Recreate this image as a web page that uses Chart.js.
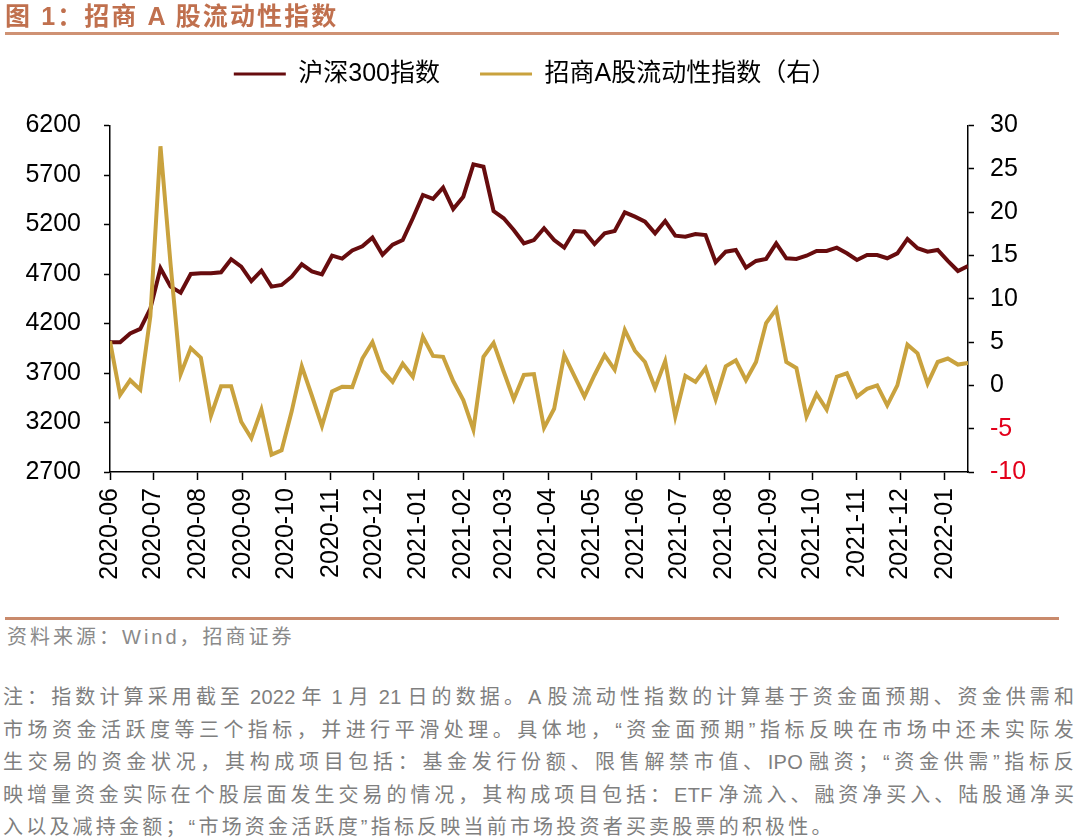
<!DOCTYPE html>
<html><head><meta charset="utf-8">
<script src="https://cdn.jsdelivr.net/npm/chart.js@4.4.1/dist/chart.umd.min.js"></script>
<style>
html,body{margin:0;padding:0;background:#fff;}
body{width:1080px;height:839px;position:relative;overflow:hidden;font-family:"Liberation Sans","Noto Sans CJK SC",sans-serif;}
#title{position:absolute;left:5px;top:0px;font-size:25px;font-weight:bold;color:#c0704e;letter-spacing:2.1px;line-height:32px;white-space:nowrap;z-index:2}
#rule1{position:absolute;left:5px;top:32px;width:1054px;height:3px;background:#cf9274;z-index:2}
#wrap{position:absolute;left:0;top:0;width:1080px;height:600px;}
#rule2{position:absolute;left:5px;top:617px;width:1054px;height:3px;background:#c98a6c}
#src{position:absolute;left:7px;top:624px;font-size:20px;line-height:26px;color:#8a8a8a;letter-spacing:3px;white-space:nowrap}
#notes{position:absolute;left:3px;top:681px;width:1073px;font-size:20px;color:#7f7f7f;}
#notes div{height:32.5px;line-height:32.5px;white-space:nowrap;}
#notes .fit, #notes #lastNote{display:inline-block;}
#notes .lat{letter-spacing:0.3px;}
</style></head>
<body>
<div id="wrap"><canvas id="c" width="1080" height="600"></canvas></div>
<div id="title">图 1：招商 A 股流动性指数</div>
<div id="rule1"></div>
<div id="rule2"></div>
<div id="src">资料来源：Wind，招商证券</div>
<div id="notes">
<div><span class="fit">注：指数计算采用截至 2022 年 1 月 21 日的数据。A 股流动性指数的计算基于资金面预期、资金供需和</span></div>
<div><span class="fit">市场资金活跃度等三个指标，并进行平滑处理。具体地，“资金面预期”指标反映在市场中还未实际发</span></div>
<div><span class="fit">生交易的资金状况，其构成项目包括：基金发行份额、限售解禁市值、IPO 融资；“资金供需”指标反</span></div>
<div><span class="fit">映增量资金实际在个股层面发生交易的情况，其构成项目包括：ETF 净流入、融资净买入、陆股通净买</span></div>
<div><span id="lastNote">入以及减持金额；“市场资金活跃度”指标反映当前市场投资者买卖股票的积极性。</span></div>
</div>
<script>
// ---- data ----
const weekDates = [
 '2020-06-05','2020-06-12','2020-06-19','2020-06-26','2020-07-03','2020-07-10','2020-07-17','2020-07-24','2020-07-31',
 '2020-08-07','2020-08-14','2020-08-21','2020-08-28','2020-09-04','2020-09-11','2020-09-18','2020-09-25',
 '2020-10-02','2020-10-09','2020-10-16','2020-10-23','2020-10-30','2020-11-06','2020-11-13','2020-11-20','2020-11-27',
 '2020-12-04','2020-12-11','2020-12-18','2020-12-25',
 '2021-01-01','2021-01-08','2021-01-15','2021-01-22','2021-01-29','2021-02-05','2021-02-12','2021-02-19','2021-02-26',
 '2021-03-05','2021-03-12','2021-03-19','2021-03-26','2021-04-02','2021-04-09','2021-04-16','2021-04-23','2021-04-30',
 '2021-05-07','2021-05-14','2021-05-21','2021-05-28','2021-06-04','2021-06-11','2021-06-18','2021-06-25',
 '2021-07-02','2021-07-09','2021-07-16','2021-07-23','2021-07-30','2021-08-06','2021-08-13','2021-08-20','2021-08-27',
 '2021-09-03','2021-09-10','2021-09-17','2021-09-24','2021-10-01','2021-10-08','2021-10-15','2021-10-22','2021-10-29',
 '2021-11-05','2021-11-12','2021-11-19','2021-11-26','2021-12-03','2021-12-10','2021-12-17','2021-12-24','2021-12-31',
 '2022-01-07','2022-01-14','2022-01-21'
];
const hs300 = [
 4010,4010,4100,4145,4350,4758,4572,4511,4700,4707,4707,4717,4849,4774,4629,4734,4572,4589,4673,4798,
 4727,4697,4885,4855,4938,4980,5067,4895,4996,5043,5263,5498,5458,5572,5357,5481,5808,5784,5336,5263,
 5145,5010,5043,5162,5043,4966,5134,5127,5003,5111,5134,5323,5279,5229,5111,5235,5087,5077,5104,5094,
 4818,4925,4943,4764,4832,4852,5010,4859,4852,4885,4933,4933,4966,4909,4842,4892,4892,4859,4909,5054,
 4960,4925,4943,4832,4730,4781
];
const liquidity = [
 5.1,-1.1,0.6,-0.5,8.0,27.6,14.0,1.3,4.3,3.2,-3.5,-0.1,-0.1,-4.2,-6.1,-2.8,-8.0,-7.5,-3.0,2.2,
 -1.2,-4.7,-0.7,-0.15,-0.2,3.1,5.0,1.7,0.4,2.5,1.0,5.6,3.4,3.3,0.5,-1.7,-5.1,3.3,4.9,1.6,
 -1.6,1.2,1.3,-4.9,-2.7,3.5,1.1,-1.3,1.2,3.5,1.8,6.4,4.0,2.7,-0.3,2.8,-3.6,1.1,0.4,2.0,
 -1.6,2.2,2.9,0.6,2.7,7.2,8.8,2.7,2.0,-3.6,-1.0,-2.8,1.0,1.4,-1.3,-0.4,0.0,-2.3,0.0,4.7,
 3.7,0.2,2.7,3.1,2.4,2.6
];
const monthTickDates = [
 '2020-06-05','2020-07-05','2020-08-05','2020-09-05','2020-10-05','2020-11-05','2020-12-05',
 '2021-01-05','2021-02-05','2021-03-05','2021-04-05','2021-05-05','2021-06-05','2021-07-05',
 '2021-08-05','2021-09-05','2021-10-05','2021-11-05','2021-12-05','2022-01-05'
];
const monthTickLabels = [
 '2020-06','2020-07','2020-08','2020-09','2020-10','2020-11','2020-12',
 '2021-01','2021-02','2021-03','2021-04','2021-05','2021-06','2021-07',
 '2021-08','2021-09','2021-10','2021-11','2021-12','2022-01'
];
const leftTickValues = [2700,3200,3700,4200,4700,5200,5700,6200];
const rightTickValues = [-10,-5,0,5,10,15,20,25,30];
const seriesNames = ['沪深300指数','招商A股流动性指数（右）'];

// ---- fit the note lines to the full width (spacing only between CJK characters) ----
document.querySelectorAll('#notes .fit').forEach(sp => {
  const txt = sp.textContent;
  sp.innerHTML = txt.replace(/[\x20-\x7e]+/g, m => '<span class="lat">' + m.replace(/ /g, '\u00a0') + '</span>');
  const nCjk = Array.from(txt.replace(/[\x20-\x7e]+/g, '')).length;
  sp.style.letterSpacing = '0px';
  const w = sp.getBoundingClientRect().width;
  sp.style.letterSpacing = ((1073 - w) / (nCjk - 0.5)) + 'px';
});
document.getElementById('lastNote').style.letterSpacing = '3.2px';

// ---- build ----
const MAROON = '#670c0e', GOLD = '#c9a23e';
const DAY = 86400000;
const t0 = Date.parse(weekDates[0]);
const dayOf = d => (Date.parse(d) - t0) / DAY;
const xEnd = dayOf(weekDates[weekDates.length - 1]);
const tickFont = {family: '"Liberation Sans", "Noto Sans CJK SC", sans-serif', size: 25};

new Chart(document.getElementById('c'), {
  type: 'line',
  data: {
    datasets: [
      {label: seriesNames[0], data: weekDates.map((d, i) => ({x: dayOf(d), y: hs300[i]})),
       borderColor: MAROON, backgroundColor: MAROON, borderWidth: 4, pointRadius: 0, tension: 0,
       yAxisID: 'yL', order: 1},
      {label: seriesNames[1], data: weekDates.map((d, i) => ({x: dayOf(d), y: liquidity[i]})),
       borderColor: GOLD, backgroundColor: GOLD, borderWidth: 4, pointRadius: 0, tension: 0,
       yAxisID: 'yR', order: 0}
    ]
  },
  options: {
    responsive: false,
    animation: false,
    layout: {padding: {top: 21.5, right: 10, left: 0, bottom: 0}},
    plugins: {
      tooltip: {enabled: false},
      title: {display: true, text: '', weight: 500, padding: {top: 19, bottom: 0}, font: {size: 10, lineHeight: 1}},
      legend: {
        position: 'top', align: 'center',
        labels: {
          boxWidth: 52, boxHeight: 3, padding: 40, color: '#000',
          font: {family: '"Liberation Sans", "Noto Sans CJK SC", sans-serif', size: 25},
          sort: (a, b) => a.datasetIndex - b.datasetIndex,
          generateLabels: (chart) => chart.data.datasets.map((ds, i) => ({
            text: ds.label, fillStyle: ds.borderColor, strokeStyle: ds.borderColor, lineWidth: 0,
            datasetIndex: i, hidden: false, fontColor: '#000'
          }))
        }
      }
    },
    scales: {
      x: {
        type: 'linear', min: 0, max: xEnd, position: 'bottom',
        afterBuildTicks: s => { s.ticks = monthTickDates.map(d => ({value: dayOf(d)})); },
        afterFit: s => { s.height = 128; },
        grid: {drawOnChartArea: false, drawTicks: true, tickLength: 8, tickColor: '#000', tickWidth: 1.5},
        border: {display: true, color: '#000', width: 1.5},
        ticks: {autoSkip: false, minRotation: 90, maxRotation: 90, padding: 8, color: '#000', font: tickFont,
                callback: (v, i) => monthTickLabels[i]}
      },
      yL: {
        type: 'linear', position: 'left', min: 2700, max: 6200,
        afterBuildTicks: s => { s.ticks = leftTickValues.map(v => ({value: v})); },
        afterFit: s => { s.width = 110; },
        grid: {drawOnChartArea: false, drawTicks: true, tickLength: 6, tickColor: '#000', tickWidth: 1.5},
        border: {display: true, color: '#000', width: 1.5},
        ticks: {padding: 23, color: '#000', font: tickFont, callback: v => String(v)}
      },
      yR: {
        type: 'linear', position: 'right', min: -10, max: 30,
        afterBuildTicks: s => { s.ticks = rightTickValues.map(v => ({value: v})); },
        afterFit: s => { s.width = 102; },
        grid: {drawOnChartArea: false, drawTicks: true, tickLength: 6, tickColor: '#000', tickWidth: 1.5},
        border: {display: true, color: '#000', width: 1.5},
        ticks: {padding: 16, font: tickFont, callback: v => String(v),
                color: c => (c.tick && c.tick.value < 0) ? '#e3001b' : '#000'}
      }
    }
  }
});
</script>
</body></html>
